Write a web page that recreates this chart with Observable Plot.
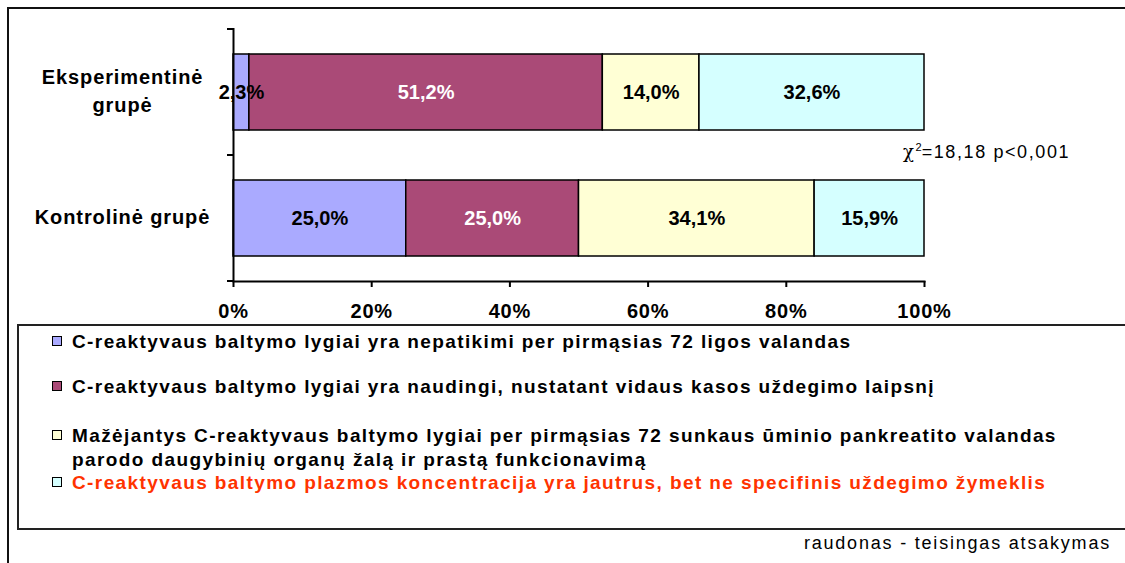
<!DOCTYPE html>
<html>
<head>
<meta charset="utf-8">
<script src="https://cdn.jsdelivr.net/npm/d3@7"></script>
<script src="https://cdn.jsdelivr.net/npm/@observablehq/plot@0.6"></script>
<style>
  html, body { margin: 0; padding: 0; background: #fff; overflow: hidden; }
  #wrap { position: relative; width: 1125px; height: 563px; overflow: hidden; font-family: "Liberation Sans", Arial, sans-serif; }
  #frame { position: absolute; left: 7px; top: 7px; width: 1300px; height: 700px; border: 2px solid #111; box-sizing: border-box; }
  #chart { position: absolute; left: 0; top: 0; }
  #legend { position: absolute; left: 17px; top: 324px; width: 1300px; height: 206px; border: 2px solid #222; box-sizing: border-box; }
  .item { position: absolute; left: 0; font-weight: bold; font-size: 19px; letter-spacing: 1.4px; line-height: 24px; white-space: pre; color: #000; }
  .sw { position: absolute; width: 10px; height: 10px; border: 1px solid #000; box-sizing: border-box; }
  #chi { position: absolute; left: 903px; top: 140px; font-size: 18px; letter-spacing: 1.6px; line-height: 24px; white-space: nowrap; }
  #chi sup { font-size: 11px; vertical-align: 7px; line-height: 0; letter-spacing: 0; }
  #note { position: absolute; right: 14px; top: 531px; font-size: 18px; letter-spacing: 1.8px; line-height: 24px; white-space: nowrap; }
</style>
</head>
<body>
<div id="wrap">
  <div id="frame"></div>
  <div id="chart"></div>
  <div id="legend"></div>
  <div id="chi"><span style="font-family:'DejaVu Serif',serif">χ</span><sup>2</sup>=18,18 p&lt;0,001</div>
  <div id="note">raudonas - teisingas atsakymas</div>
</div>
<script>
// ---- data ----
const groups = ["Eksperimentinė grupė", "Kontrolinė grupė"];
const groupLabels = ["Eksperimentinė\ngrupė", "Kontrolinė grupė"];
const categories = [
  "C-reaktyvaus baltymo lygiai yra nepatikimi per pirmąsias 72 ligos valandas",
  "C-reaktyvaus baltymo lygiai yra naudingi, nustatant vidaus kasos uždegimo laipsnį",
  "Mažėjantys C-reaktyvaus baltymo lygiai per pirmąsias 72 sunkaus ūminio pankreatito valandas\nparodo daugybinių organų žalą ir prastą funkcionavimą",
  "C-reaktyvaus baltymo plazmos koncentracija yra jautrus, bet ne specifinis uždegimo žymeklis"
];
const eksperimentine = [2.3, 51.2, 14.0, 32.6];
const kontroline = [25.0, 25.0, 34.1, 15.9];
const colors = ["#AAAAFF", "#AA4A77", "#FFFFD5", "#D5FFFF"];
const labelColors = ["#000", "#fff", "#000", "#000"];
const legendTextColors = ["#000", "#000", "#000", "#FF3300"];
const xTicks = [0, 0.2, 0.4, 0.6, 0.8, 1];

// ---- table ----
const data = [];
[eksperimentine, kontroline].forEach((vals, gi) => {
  vals.forEach((v, ci) => data.push({group: groups[gi], category: categories[ci], ci, value: v}));
});
const fmt = v => v.toFixed(1).replace(".", ",") + "%";

// band-boundary ticks on the y axis, computed from the y scale
function yBoundaryTicks(index, scales, values, dims) {
  const y = scales.y;
  const step = y.step(), bw = y.bandwidth();
  const centers = y.domain().map(d => y(d) + bw / 2);
  const pos = centers.map(c => c - step / 2).concat([centers[centers.length - 1] + step / 2]);
  const g = d3.create("svg:g");
  g.selectAll("line").data(pos).join("line")
    .attr("x1", dims.marginLeft - 6).attr("x2", dims.marginLeft)
    .attr("y1", d => d).attr("y2", d => d)
    .attr("stroke", "#000").attr("stroke-width", 2);
  return g.node();
}

const chart = Plot.plot({
  width: 1125,
  height: 324,
  marginLeft: 233,
  marginRight: 201,
  marginTop: 28,
  marginBottom: 43,
  style: {fontFamily: "'Liberation Sans', Arial, sans-serif", fontSize: "20px", fontWeight: "bold", color: "#000", background: "transparent", overflow: "visible"},
  x: {domain: [0, 1], ticks: xTicks, tickFormat: d3.format(".0%"), label: null},
  y: {domain: groups, paddingInner: 0.4, paddingOuter: 0.2, label: null},
  color: {domain: categories, range: colors},
  marks: [
    Plot.barX(data, Plot.stackX({x: "value", y: "group", fill: "category", order: categories, offset: "normalize", stroke: "#000", strokeWidth: 1.5})),
    Plot.text(data, Plot.stackX({x: "value", y: "group", order: categories, offset: "normalize", text: d => fmt(d.value), fill: d => labelColors[d.ci], fontSize: 20, fontWeight: "bold"})),
    Plot.ruleX([0], {stroke: "#000", strokeWidth: 2}),
    Plot.frame({anchor: "bottom", stroke: "#000", strokeWidth: 2}),
    Plot.axisX({ticks: xTicks, tickFormat: d3.format(".0%"), tickSize: 6, tickPadding: 16, strokeWidth: 2, label: null, fontSize: 20}),
    Plot.axisY({tickSize: 0, tickPadding: 111, dy: -3, textAnchor: "middle", lineHeight: 1.4, tickFormat: d => groupLabels[groups.indexOf(d)], label: null, fontSize: 20}),
    yBoundaryTicks
  ]
});
d3.select(chart).selectAll("g[aria-label='y-axis tick label'] text").style("letter-spacing", "0.9px");
d3.select(chart).selectAll("g[aria-label='x-axis tick label'] text").style("letter-spacing", "0.8px");
document.getElementById("chart").appendChild(chart);

// ---- legend (HTML) ----
const capCenters = [342, 387, 436, 483];
const legend = document.getElementById("legend");
const legendTop = 324 + 2;
categories.forEach((c, i) => {
  const sw = document.createElement("div");
  sw.className = "sw";
  sw.style.left = (52 - 19) + "px";
  sw.style.top = (capCenters[i] - 6 - legendTop) + "px";
  sw.style.background = colors[i];
  legend.appendChild(sw);
  const t = document.createElement("div");
  t.className = "item";
  t.style.left = (72 - 19) + "px";
  t.style.top = (capCenters[i] - 12 - legendTop) + "px";
  t.style.color = legendTextColors[i];
  t.textContent = c;
  legend.appendChild(t);
});
</script>
</body>
</html>
